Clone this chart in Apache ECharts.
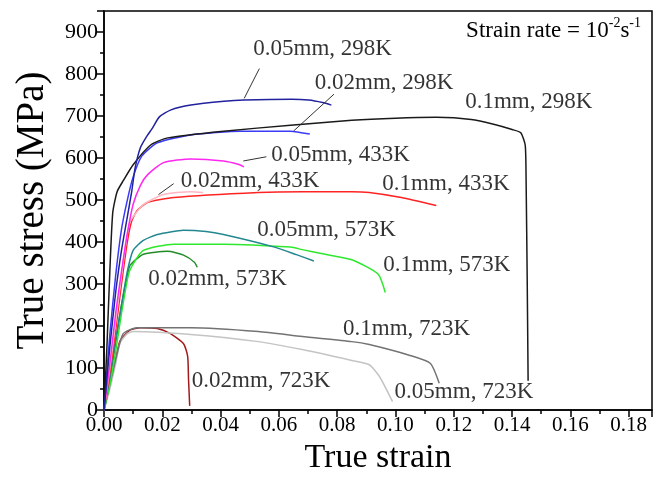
<!DOCTYPE html>
<html>
<head>
<meta charset="utf-8">
<script src="https://cdn.jsdelivr.net/npm/echarts@6/dist/echarts.min.js"></script>
<style>
  html, body { margin: 0; padding: 0; background: #fff; }
  #main { width: 660px; height: 480px; }
</style>
</head>
<body>
<div id="main"></div>
<script>
// [true strain, true stress MPa]
var d005_298 = [[0,0],[0.002,150],[0.004,280],[0.006,380],[0.008,460],[0.0095,520],[0.0107,577],[0.0125,625],[0.0145,650],[0.0165,670],[0.0190,698],[0.0228,714],[0.0298,726],[0.0412,735],[0.0481,738],[0.0644,740],[0.0702,738],[0.075,732],[0.078,726]];
var d01_298 = [[0,0],[0.001,150],[0.002,330],[0.003,470],[0.0045,520],[0.0066,546],[0.010,584],[0.016,631],[0.0218,648],[0.041,664],[0.064,678],[0.085,690],[0.1,695],[0.114,697],[0.126,692],[0.134,680],[0.140,668],[0.143,660],[0.1445,631],[0.1448,553],[0.1452,300],[0.1455,70]];
var d002_298 = [[0,0],[0.002,180],[0.004,320],[0.006,430],[0.008,500],[0.010,555],[0.013,605],[0.0183,636],[0.0298,655],[0.047,664],[0.064,664],[0.0706,657]];
var d005_433 = [[0,0],[0.002,110],[0.004,230],[0.006,330],[0.008,420],[0.010,490],[0.0125,535],[0.0149,560],[0.0204,589],[0.0298,598],[0.041,593],[0.046,585],[0.048,579]];
var d002_433 = [[0,0],[0.002,100],[0.004,210],[0.006,320],[0.008,420],[0.009,450],[0.0135,489],[0.0204,513],[0.0298,520],[0.034,518]];
var d01_433 = [[0,0],[0.002,90],[0.004,190],[0.006,300],[0.008,400],[0.0095,450],[0.0114,475],[0.0149,494],[0.024,506],[0.053,518],[0.068,520],[0.085,520],[0.091,518],[0.102,506],[0.114,487]];
var d005_573 = [[0,0],[0.002,80],[0.004,170],[0.006,250],[0.008,330],[0.010,380],[0.0135,404],[0.0183,418],[0.0273,428],[0.035,425],[0.041,418],[0.0585,388],[0.066,370],[0.072,355]];
var d01_573 = [[0,0],[0.002,60],[0.004,140],[0.006,230],[0.008,310],[0.009,335],[0.0135,380],[0.024,395],[0.041,395],[0.064,388],[0.068,382],[0.075,372],[0.085,358],[0.094,324],[0.0965,280]];
var d002_573 = [[0,0],[0.002,70],[0.004,160],[0.006,250],[0.008,320],[0.009,345],[0.0135,371],[0.0218,378],[0.0273,369],[0.031,352],[0.032,340]];
var d01_723 = [[0,0],[0.002,60],[0.004,120],[0.0066,182],[0.0114,196],[0.0298,196],[0.053,187],[0.068,175],[0.085,163],[0.091,156],[0.105,130],[0.112,111],[0.115,64]];
var d005_723 = [[0,0],[0.002,50],[0.004,110],[0.0055,160],[0.008,182],[0.010,187],[0.0298,180],[0.053,163],[0.068,144],[0.085,118],[0.091,108],[0.0945,80],[0.099,20]];
var d002_723 = [[0,0],[0.002,60],[0.004,120],[0.0055,165],[0.009,191],[0.0125,196],[0.0183,194],[0.0228,182],[0.0273,158],[0.0287,128],[0.029,73],[0.0294,10]];

// curve labels: [strain, stress, text]
var labels = [
  [0.0512, 860, '0.05mm, 298K'],
  [0.0723, 778, '0.02mm, 298K'],
  [0.1239, 733, '0.1mm, 298K'],
  [0.0574, 608, '0.05mm, 433K'],
  [0.0263, 546, '0.02mm, 433K'],
  [0.0955, 539, '0.1mm, 433K'],
  [0.0526, 430, '0.05mm, 573K'],
  [0.0958, 345, '0.1mm, 573K'],
  [0.0152, 312, '0.02mm, 573K'],
  [0.0820, 194, '0.1mm, 723K'],
  [0.0301, 69, '0.02mm, 723K'],
  [0.0997, 43, '0.05mm, 723K']
];
// leader lines from label to curve
var leaders = [
  [[0.0533, 813], [0.0481, 742]],
  [[0.0789, 752], [0.0650, 664]],
  [[0.0557, 603], [0.0478, 593]],
  [[0.0239, 539], [0.0187, 513]]
];

var serif = 'Liberation Serif';
var myChart = echarts.init(document.getElementById('main'));

function curve(name, data, color) {
  return {
    name: name, type: 'line', data: data, showSymbol: false, smooth: 0.2,
    lineStyle: { color: color, width: 1.5 }, silent: true, z: 3
  };
}

var option = {
  animation: false,
  grid: { left: 104, right: 8, top: 11, bottom: 66, show: true, borderColor: '#000', borderWidth: 1.5 },
  xAxis: {
    type: 'value', min: 0, max: 0.188, interval: 0.02,
    name: 'True strain', nameLocation: 'middle', nameGap: 30,
    nameTextStyle: { fontFamily: serif, fontSize: 34, color: '#000' },
    axisLine: { onZero: false, lineStyle: { color: '#000', width: 1.5 } },
    axisTick: { inside: false, length: 7, lineStyle: { color: '#000', width: 1.5 } },
    minorTick: { show: true, splitNumber: 2, length: 4, lineStyle: { color: '#000', width: 1.5 } },
    splitLine: { show: false },
    axisLabel: {
      fontFamily: serif, fontSize: 21, color: '#000', margin: 5,
      formatter: function (v) { return Math.round(v * 100) % 2 === 0 ? v.toFixed(2) : ''; }
    }
  },
  yAxis: {
    type: 'value', min: 0, max: 950, interval: 100,
    name: 'True stress (MPa)', nameLocation: 'middle', nameGap: 52,
    nameTextStyle: { fontFamily: serif, fontSize: 39, color: '#000' },
    axisLine: { onZero: false, lineStyle: { color: '#000', width: 1.5 } },
    axisTick: { inside: false, length: 7, lineStyle: { color: '#000', width: 1.5 } },
    minorTick: { show: true, splitNumber: 2, length: 4, lineStyle: { color: '#000', width: 1.5 } },
    splitLine: { show: false },
    axisLabel: {
      fontFamily: serif, fontSize: 22, color: '#000', margin: 6,
      formatter: function (v) { return v % 100 === 0 ? String(v) : ''; }
    }
  },
  graphic: [{
    type: 'text', right: 19, top: 16,
    style: {
      text: '{a|Strain rate = 10}{s|-2}{a|s}{s|-1}',
      rich: {
        a: { fontFamily: serif, fontSize: 23, fill: '#000', lineHeight: 26, verticalAlign: 'bottom' },
        s: { fontFamily: serif, fontSize: 14, fill: '#000', lineHeight: 26, verticalAlign: 'top' }
      }
    }
  }],
  series: [
    curve('0.02mm, 723K', d002_723, '#a3191c'),
    curve('0.05mm, 723K', d005_723, '#c4c4c4'),
    curve('0.1mm, 723K', d01_723, '#737373'),
    curve('0.02mm, 573K', d002_573, '#238c28'),
    curve('0.1mm, 573K', d01_573, '#2ee82e'),
    curve('0.05mm, 573K', d005_573, '#23878f'),
    curve('0.1mm, 433K', d01_433, '#ff2424'),
    curve('0.02mm, 433K', d002_433, '#ffb7c3'),
    curve('0.05mm, 433K', d005_433, '#ff28f0'),
    curve('0.02mm, 298K', d002_298, '#3b3bf5'),
    curve('0.1mm, 298K', d01_298, '#1a1a1a'),
    curve('0.05mm, 298K', d005_298, '#22229e'),
    {
      type: 'scatter', symbolSize: 0, silent: true, z: 5,
      data: labels.map(function (l) { return { value: [l[0], l[1]], name: l[2] }; }),
      label: {
        show: true, position: 'right', distance: 0, formatter: '{b}',
        fontFamily: serif, fontSize: 23, color: '#000'
      },
      markLine: {
        silent: true, symbol: 'none', animation: false,
        lineStyle: { color: '#333', width: 1, type: 'solid' },
        label: { show: false },
        data: leaders.map(function (s) { return [{ coord: s[0] }, { coord: s[1] }]; })
      }
    }
  ]
};
myChart.setOption(option);
</script>
</body>
</html>
